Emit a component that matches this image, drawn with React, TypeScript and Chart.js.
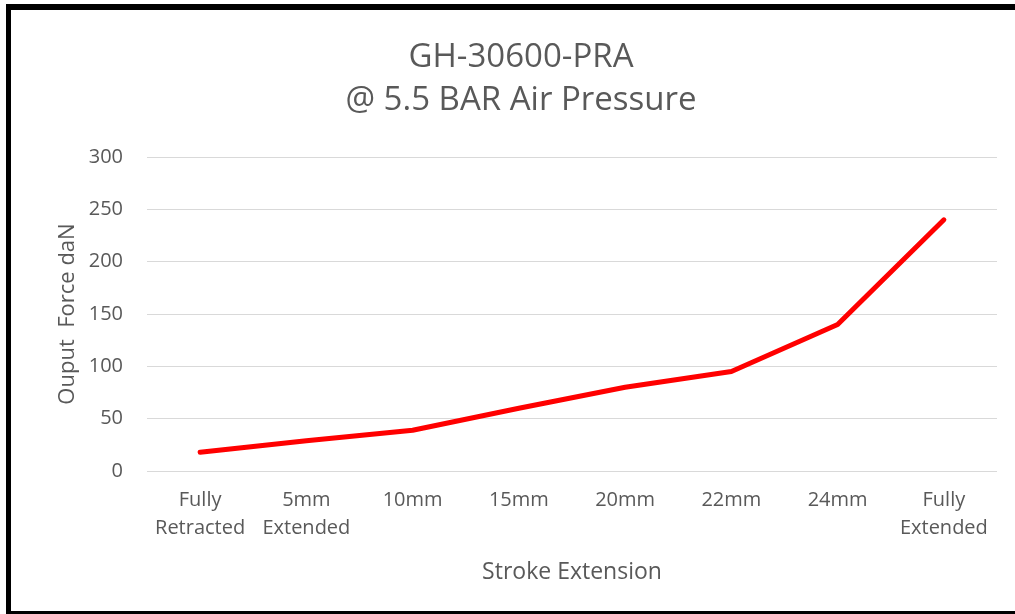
import React, { useEffect, useRef } from "react";
import { Chart, registerables } from "chart.js";

Chart.register(...registerables);

const categories: (string | string[])[] = [
  ["Fully", "Retracted"],
  ["5mm", "Extended"],
  "10mm",
  "15mm",
  "20mm",
  "22mm",
  "24mm",
  ["Fully", "Extended"],
];
const forceValues: number[] = [18, 29, 39, 60, 80, 95, 140, 240];
const titleLines: string[] = ["GH-30600-PRA", "@ 5.5 BAR Air Pressure"];
const yAxisTitle = "Ouput  Force daN";
const xAxisTitle = "Stroke Extension";

const FONT = "'Open Sans', Lato, sans-serif";
const TEXT = "#595959";

export default function App() {
  const ref = useRef<HTMLCanvasElement | null>(null);

  useEffect(() => {
    if (!ref.current) return;
    const chart = new Chart(ref.current, {
      type: "line",
      data: {
        labels: categories,
        datasets: [
          {
            data: forceValues,
            borderColor: "#FF0000",
            backgroundColor: "#FF0000",
            borderWidth: 5,
            borderCapStyle: "round",
            borderJoinStyle: "round",
            pointRadius: 0,
            tension: 0,
          },
        ],
      },
      options: {
        animation: false,
        responsive: false,
        maintainAspectRatio: false,
        layout: { padding: { left: 45, right: 18, top: 0, bottom: 0 } },
        plugins: {
          legend: { display: false },
          tooltip: { enabled: false },
          title: {
            display: true,
            text: titleLines,
            color: TEXT,
            font: { family: FONT, size: 33, weight: "normal", lineHeight: 43 / 33 },
            padding: { top: 36.5, bottom: 34.5 },
          },
        },
        scales: {
          x: {
            type: "category",
            offset: true,
            grid: { display: false, drawTicks: false },
            border: { display: false },
            ticks: {
              color: TEXT,
              font: { family: FONT, size: 20, lineHeight: 1.4 },
              padding: 15,
              maxRotation: 0,
              autoSkip: false,
            },
            title: {
              display: true,
              text: xAxisTitle,
              color: TEXT,
              font: { family: FONT, size: 23, lineHeight: 1.2 },
              padding: { top: 0, bottom: 28.2 },
            },
            afterFit: (scale: any) => {
              scale.height = 143;
            },
          },
          y: {
            min: 0,
            max: 300,
            grid: { color: "#d9d9d9", lineWidth: 1, drawTicks: false },
            border: { display: false },
            ticks: {
              stepSize: 50,
              color: TEXT,
              font: { family: FONT, size: 20 },
              padding: 24,
            },
            title: {
              display: true,
              text: yAxisTitle,
              color: TEXT,
              font: { family: FONT, size: 22, lineHeight: 1.2 },
              padding: { top: 9.8, bottom: 0 },
            },
            afterFit: (scale: any) => {
              scale.width = 102;
            },
          },
        },
      },
    });
    return () => chart.destroy();
  }, []);

  return (
    <div
      style={{
        position: "absolute",
        left: 0,
        top: 0,
        width: 1015,
        height: 614,
        background: "#ffffff",
        overflow: "hidden",
      }}
    >
      <canvas ref={ref} width={1015} height={614} style={{ position: "absolute", left: 0, top: 0 }} />
      <div style={{ position: "absolute", left: 6, top: 4, width: 1009, height: 6, background: "#000" }} />
      <div style={{ position: "absolute", left: 6, top: 4, width: 5, height: 610, background: "#000" }} />
      <div style={{ position: "absolute", left: 6, top: 611, width: 1009, height: 3, background: "#000" }} />
    </div>
  );
}
